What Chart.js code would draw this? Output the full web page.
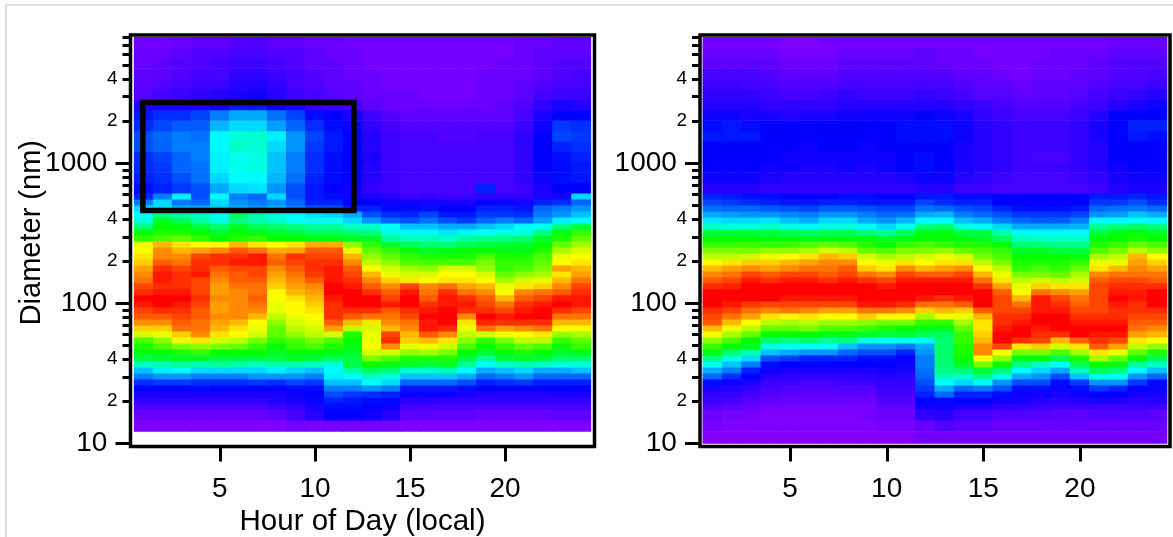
<!DOCTYPE html>
<html>
<head>
<meta charset="utf-8">
<title>Diameter by hour of day</title>
<script src="https://cdn.jsdelivr.net/npm/chart.js@4/dist/chart.umd.js"></script>
<style>
    html, body { margin: 0; padding: 0; background: #fff; overflow: hidden; }
    #page { position: absolute; left: 5px; top: 4px; width: 1168px; height: 533px; border-left: 2px solid #dcdcdc; border-top: 2px solid #e0e0e0; }
    canvas { position: absolute; top: 0; filter: blur(0.35px); }
    #leftChart { left: 0; }
    #rightChart { left: 610px; }
</style>
</head>
<body>
<div id="page"></div>
<canvas id="leftChart" width="610" height="537"></canvas>
<canvas id="rightChart" width="563" height="537"></canvas>
<script>
const hours = [1, 2, 3, 4, 5, 6, 7, 8, 9, 10, 11, 12, 13, 14, 15, 16, 17, 18, 19, 20, 21, 22, 23, 24];
const xTicks = [5, 10, 15, 20];
const yMajorTicks = [10, 100, 1000];
const yMinorTicks = [20, 30, 40, 50, 60, 70, 80, 90, 200, 300, 400, 500, 600, 700, 800, 900, 2000, 3000, 4000, 5000, 6000, 7000, 8000];
const yMinorLabels = { 20: '2', 40: '4', 200: '2', 400: '4', 2000: '2', 4000: '4' };

// size bin edges in nm, largest first
const diameterEdges = [7963, 6712, 5657, 4768, 4019, 3388, 2855, 2407, 2029, 1710, 1441, 1215, 1024, 863, 727, 613,
    556, 503, 456, 413, 374, 339, 307, 278, 252, 229, 207, 188, 170, 154, 140, 127, 115, 104, 94.2, 85.3, 77.3, 70,
    63.5, 57.5, 52.1, 47.2, 42.8, 38.8, 35.1, 31.8, 28.8, 26.1, 23.7, 21.4, 19.4, 17.6, 14.7, 12.2, 10];

// black box on the left panel
const boxHours = [0.95, 12.05];
const boxDiameters = [460, 2716];

// colour level 0 (purple) .. 100 (red), one row per size bin, largest size first
const leftRows = [
    [1, 1, 2, 3, 3, 4, 4, 3, 3, 2, 2, 1, 1, 1, 1, 1, 1, 1, 1, 1, 2, 2, 3, 3],
    [2, 2, 3, 4, 4, 5, 5, 4, 4, 3, 2, 2, 1, 1, 1, 1, 1, 1, 1, 1, 2, 3, 3, 3],
    [2, 3, 4, 4, 5, 6, 6, 5, 4, 3, 3, 2, 1, 1, 1, 1, 1, 1, 1, 2, 2, 3, 4, 4],
    [3, 3, 4, 5, 5, 7, 7, 6, 5, 4, 3, 2, 2, 1, 1, 1, 1, 1, 2, 2, 2, 3, 4, 5],
    [3, 4, 5, 6, 6, 8, 8, 7, 5, 4, 3, 3, 2, 1, 1, 1, 1, 1, 2, 2, 3, 4, 5, 5],
    [4, 5, 6, 7, 8, 9, 10, 8, 6, 5, 4, 3, 2, 2, 2, 1, 1, 1, 2, 2, 3, 5, 6, 6],
    [8, 9, 9, 9, 10, 13, 13, 11, 9, 7, 6, 5, 3, 2, 2, 2, 2, 2, 2, 3, 4, 7, 9, 8],
    [13, 15, 15, 17, 22, 26, 26, 21, 17, 12, 11, 9, 6, 4, 3, 3, 3, 3, 3, 3, 5, 9, 11, 11],
    [15, 17, 19, 19, 27, 30, 30, 25, 20, 15, 12, 10, 7, 5, 4, 4, 4, 4, 4, 4, 6, 10, 16, 15],
    [18, 20, 22, 21, 33, 37, 38, 32, 24, 17, 13, 11, 8, 6, 5, 5, 4, 4, 5, 5, 7, 11, 17, 16],
    [18, 20, 22, 22, 33, 38, 37, 30, 24, 16, 13, 11, 8, 6, 5, 5, 5, 5, 5, 5, 7, 11, 14, 15],
    [15, 17, 20, 22, 32, 35, 36, 28, 22, 15, 12, 11, 9, 6, 5, 5, 5, 5, 5, 5, 7, 11, 12, 14],
    [15, 16, 20, 21, 32, 35, 36, 28, 22, 15, 12, 11, 8, 6, 5, 5, 5, 5, 5, 5, 7, 11, 12, 13],
    [14, 15, 18, 21, 30, 33, 33, 27, 21, 14, 12, 11, 8, 6, 5, 5, 5, 5, 5, 5, 7, 10, 12, 13],
    [12, 14, 16, 18, 26, 30, 31, 24, 18, 13, 11, 10, 7, 6, 5, 5, 5, 5, 14, 5, 6, 9, 11, 11],
    [14, 22, 32, 18, 33, 22, 20, 30, 18, 13, 12, 10, 9, 8, 6, 7, 6, 6, 7, 7, 7, 9, 9, 30],
    [22, 30, 22, 20, 30, 24, 22, 24, 20, 14, 14, 11, 11, 10, 10, 9, 9, 9, 11, 10, 9, 14, 15, 20],
    [30, 30, 26, 26, 28, 26, 24, 26, 22, 18, 18, 14, 14, 12, 12, 12, 11, 11, 14, 14, 13, 20, 22, 24],
    [34, 44, 40, 38, 34, 48, 40, 36, 34, 31, 30, 26, 18, 15, 14, 17, 13, 13, 16, 16, 15, 22, 24, 28],
    [36, 52, 48, 42, 36, 44, 40, 38, 34, 33, 34, 30, 24, 20, 18, 21, 18, 16, 20, 22, 20, 25, 32, 33],
    [44, 56, 54, 50, 46, 52, 48, 46, 44, 42, 42, 38, 38, 34, 28, 28, 26, 26, 28, 30, 33, 34, 44, 50],
    [56, 58, 58, 56, 52, 56, 54, 52, 50, 48, 48, 46, 44, 36, 33, 33, 31, 33, 34, 36, 36, 44, 54, 60],
    [60, 62, 64, 60, 56, 58, 60, 56, 56, 54, 54, 52, 52, 42, 40, 40, 38, 42, 44, 44, 46, 52, 58, 64],
    [76, 84, 80, 78, 78, 84, 80, 78, 80, 85, 85, 68, 60, 52, 48, 46, 46, 48, 50, 52, 52, 56, 64, 70],
    [78, 88, 84, 86, 88, 92, 90, 85, 86, 92, 92, 76, 64, 60, 56, 52, 54, 56, 56, 54, 54, 58, 70, 74],
    [80, 88, 88, 94, 96, 96, 98, 90, 96, 94, 94, 84, 68, 64, 60, 58, 58, 58, 62, 58, 58, 62, 76, 78],
    [82, 92, 90, 96, 96, 98, 98, 92, 94, 96, 96, 88, 72, 68, 62, 62, 62, 62, 66, 60, 60, 64, 78, 80],
    [86, 96, 94, 96, 92, 94, 94, 88, 92, 96, 98, 92, 78, 74, 70, 68, 74, 74, 68, 60, 62, 66, 86, 84],
    [88, 98, 96, 98, 90, 92, 94, 86, 90, 95, 98, 94, 84, 76, 74, 74, 78, 78, 74, 64, 68, 70, 80, 86],
    [90, 98, 96, 94, 88, 92, 92, 84, 88, 92, 98, 96, 88, 82, 80, 78, 80, 80, 78, 70, 74, 76, 84, 90],
    [94, 96, 96, 94, 86, 90, 90, 82, 86, 88, 100, 98, 92, 88, 94, 88, 90, 86, 84, 76, 80, 82, 88, 94],
    [96, 98, 98, 94, 86, 88, 90, 78, 84, 86, 100, 100, 96, 92, 98, 90, 96, 90, 88, 78, 88, 90, 92, 96],
    [100, 100, 100, 96, 88, 88, 92, 78, 80, 84, 98, 100, 100, 94, 100, 92, 98, 96, 92, 84, 92, 94, 98, 98],
    [98, 100, 98, 94, 86, 88, 90, 76, 78, 82, 96, 100, 100, 98, 100, 96, 98, 98, 94, 90, 96, 98, 100, 98],
    [94, 96, 96, 92, 86, 88, 88, 76, 78, 80, 96, 96, 96, 92, 96, 98, 100, 96, 96, 94, 98, 100, 96, 94],
    [92, 92, 94, 92, 88, 88, 84, 72, 76, 78, 96, 92, 90, 90, 94, 100, 100, 88, 100, 98, 100, 100, 90, 90],
    [88, 88, 92, 90, 86, 84, 78, 68, 74, 76, 92, 84, 80, 88, 90, 98, 100, 80, 97, 96, 96, 96, 84, 84],
    [82, 82, 90, 90, 84, 80, 76, 64, 72, 74, 86, 72, 74, 84, 88, 98, 96, 76, 90, 86, 88, 90, 78, 78],
    [74, 76, 82, 88, 80, 78, 74, 64, 68, 72, 74, 58, 76, 94, 84, 92, 88, 72, 74, 76, 78, 80, 68, 70],
    [62, 68, 76, 80, 74, 72, 66, 60, 62, 66, 62, 56, 76, 96, 82, 84, 80, 68, 60, 66, 72, 72, 60, 64],
    [58, 62, 66, 68, 66, 64, 60, 56, 60, 62, 58, 54, 78, 88, 76, 76, 74, 62, 56, 60, 64, 62, 56, 60],
    [54, 56, 58, 60, 56, 56, 56, 52, 56, 56, 54, 52, 74, 74, 68, 70, 66, 56, 52, 56, 58, 56, 52, 54],
    [50, 50, 52, 52, 50, 50, 50, 50, 52, 50, 48, 50, 66, 62, 58, 58, 58, 50, 42, 50, 52, 50, 46, 46],
    [38, 40, 42, 40, 42, 40, 38, 40, 40, 38, 36, 50, 56, 54, 52, 50, 52, 42, 33, 38, 40, 38, 36, 36],
    [28, 32, 33, 30, 30, 30, 30, 32, 30, 28, 33, 42, 48, 46, 38, 38, 40, 33, 26, 28, 30, 26, 26, 28],
    [22, 24, 24, 22, 22, 22, 24, 24, 24, 22, 32, 33, 38, 36, 28, 28, 28, 26, 20, 22, 24, 20, 20, 20],
    [15, 16, 16, 15, 15, 15, 16, 15, 17, 16, 28, 28, 33, 30, 20, 20, 20, 18, 14, 15, 16, 14, 14, 14],
    [11, 11, 11, 12, 11, 11, 11, 11, 12, 12, 22, 22, 24, 22, 13, 13, 13, 12, 11, 11, 11, 11, 11, 11],
    [9, 9, 9, 9, 9, 9, 9, 9, 10, 11, 18, 16, 15, 14, 10, 10, 10, 9, 8, 8, 8, 8, 9, 9],
    [7, 7, 7, 7, 7, 7, 7, 8, 9, 10, 14, 13, 12, 12, 8, 8, 7, 7, 7, 7, 7, 7, 7, 7],
    [5, 5, 5, 5, 5, 5, 5, 6, 7, 9, 12, 12, 11, 10, 5, 5, 5, 5, 5, 5, 5, 5, 5, 5],
    [2, 2, 2, 2, 2, 2, 2, 3, 5, 8, 11, 11, 10, 8, 3, 3, 3, 3, 2, 2, 2, 2, 3, 3],
    [0, 0, 0, 0, 0, 0, 0, 0, 1, 1, 1, 1, 1, 1, 0, 0, 0, 0, 0, 0, 0, 0, 0, 0]
];

// right panel, coarse bins above about 600 nm, one row per size bin
const rightCoarseRows = [
    [1, 1, 1, 1, 0, 0, 1, 1, 1, 1, 1, 1, 1, 1, 1, 1, 1, 1, 1, 1, 1, 2, 2, 2],
    [2, 2, 2, 2, 1, 1, 1, 2, 2, 2, 2, 3, 2, 2, 1, 1, 1, 1, 2, 2, 2, 3, 3, 3],
    [3, 3, 3, 3, 2, 2, 2, 3, 3, 3, 3, 3, 2, 2, 2, 1, 1, 2, 2, 2, 3, 4, 4, 4],
    [5, 5, 5, 4, 3, 3, 3, 4, 4, 4, 4, 4, 4, 3, 3, 2, 1, 2, 2, 3, 3, 4, 4, 5],
    [6, 6, 5, 5, 4, 4, 4, 5, 5, 5, 5, 5, 5, 4, 3, 3, 2, 3, 3, 3, 4, 5, 5, 6],
    [7, 7, 7, 6, 5, 5, 6, 7, 6, 6, 6, 7, 6, 5, 4, 4, 3, 3, 3, 4, 5, 6, 7, 8],
    [8, 8, 8, 7, 7, 7, 7, 8, 8, 8, 8, 8, 8, 7, 6, 5, 4, 4, 4, 5, 6, 8, 9, 10],
    [10, 10, 9, 9, 8, 9, 9, 10, 10, 10, 10, 11, 10, 9, 7, 6, 5, 5, 5, 6, 8, 11, 11, 11],
    [12, 13, 12, 11, 11, 11, 11, 11, 11, 11, 12, 12, 12, 10, 8, 7, 6, 6, 6, 7, 9, 11, 14, 14],
    [13, 13, 13, 11, 11, 11, 11, 11, 11, 11, 12, 12, 12, 10, 8, 7, 6, 6, 6, 7, 9, 11, 13, 12],
    [11, 11, 11, 11, 11, 10, 11, 11, 10, 11, 11, 11, 11, 9, 8, 7, 6, 6, 6, 7, 8, 11, 11, 11],
    [11, 11, 11, 11, 10, 10, 10, 10, 10, 10, 11, 12, 11, 9, 8, 7, 6, 5, 5, 7, 8, 11, 11, 11],
    [11, 11, 11, 10, 10, 9, 9, 10, 9, 10, 11, 12, 11, 9, 8, 7, 6, 6, 6, 7, 8, 10, 11, 11],
    [10, 10, 10, 9, 8, 8, 8, 8, 8, 8, 9, 10, 10, 8, 7, 6, 5, 5, 5, 6, 7, 9, 10, 10],
    [8, 8, 8, 7, 7, 7, 7, 7, 7, 7, 7, 8, 8, 6, 6, 5, 5, 5, 5, 5, 6, 8, 9, 9]
];

// right panel, fine bins below about 600 nm, one list per hour, largest size first
const rightFineByHour = [
    [14, 17, 21, 26, 31, 38, 50, 56, 60, 66, 72, 78, 84, 88, 92, 96, 100, 100, 100, 96, 94, 92, 84, 76, 68, 60, 54, 44, 34, 26, 20, 12, 9, 7, 6, 4, 2, 1, 0],
    [13, 16, 20, 25, 30, 36, 50, 56, 60, 66, 72, 80, 86, 90, 94, 97, 100, 100, 98, 94, 90, 84, 76, 70, 62, 56, 46, 36, 28, 22, 15, 10, 8, 7, 5, 3, 1, 0, 0],
    [12, 15, 20, 24, 30, 36, 50, 56, 60, 66, 74, 82, 88, 94, 98, 100, 100, 100, 95, 90, 86, 78, 72, 64, 56, 54, 40, 30, 22, 14, 11, 9, 7, 5, 4, 2, 1, 0, 0],
    [12, 14, 19, 24, 31, 38, 50, 54, 60, 68, 76, 82, 86, 92, 96, 100, 100, 100, 94, 88, 80, 72, 64, 56, 46, 36, 28, 18, 12, 10, 8, 6, 5, 4, 3, 1, 0, 0, 0],
    [11, 13, 18, 23, 28, 36, 48, 54, 60, 68, 78, 84, 88, 94, 98, 100, 100, 98, 94, 90, 78, 70, 64, 56, 44, 34, 26, 16, 11, 9, 7, 6, 4, 3, 2, 1, 0, 0, 0],
    [11, 13, 17, 22, 26, 33, 46, 54, 62, 70, 80, 86, 90, 94, 98, 100, 100, 98, 94, 88, 80, 72, 66, 56, 46, 34, 24, 14, 11, 9, 7, 5, 4, 3, 2, 1, 0, 0, 0],
    [11, 14, 19, 24, 30, 36, 48, 54, 64, 74, 84, 88, 90, 92, 96, 100, 100, 98, 94, 86, 78, 70, 62, 54, 42, 33, 24, 14, 11, 9, 7, 5, 4, 3, 2, 1, 0, 0, 0],
    [12, 14, 19, 24, 30, 36, 48, 54, 62, 72, 82, 88, 92, 94, 98, 100, 100, 98, 94, 86, 78, 70, 62, 54, 44, 28, 20, 14, 11, 9, 7, 6, 4, 3, 2, 1, 0, 0, 0],
    [12, 13, 18, 22, 26, 33, 44, 54, 58, 64, 74, 78, 82, 90, 96, 100, 100, 100, 98, 90, 82, 68, 60, 52, 36, 24, 18, 12, 11, 9, 7, 6, 4, 3, 2, 1, 1, 0, 0],
    [11, 13, 17, 20, 24, 30, 42, 52, 56, 62, 70, 76, 80, 88, 94, 98, 100, 100, 98, 90, 78, 66, 58, 50, 34, 24, 18, 12, 11, 10, 8, 7, 6, 5, 4, 3, 2, 1, 0],
    [11, 13, 17, 21, 27, 35, 47, 54, 60, 66, 72, 80, 88, 94, 98, 100, 100, 100, 96, 88, 78, 66, 56, 50, 34, 22, 14, 11, 10, 9, 8, 7, 6, 5, 4, 3, 2, 1, 0],
    [13, 17, 21, 26, 33, 44, 54, 56, 62, 66, 74, 78, 84, 92, 98, 100, 100, 98, 90, 82, 70, 60, 54, 48, 33, 26, 24, 22, 22, 21, 20, 18, 16, 14, 11, 10, 7, 2, 1],
    [13, 15, 20, 27, 33, 46, 54, 56, 60, 68, 76, 80, 86, 92, 98, 100, 100, 96, 90, 84, 76, 60, 54, 47, 46, 46, 46, 46, 46, 44, 40, 33, 26, 20, 12, 10, 8, 4, 1],
    [12, 14, 18, 22, 28, 36, 50, 54, 58, 64, 74, 80, 88, 94, 98, 100, 100, 98, 92, 82, 76, 70, 64, 60, 60, 58, 58, 56, 52, 46, 38, 30, 20, 14, 11, 9, 5, 3, 1],
    [12, 14, 17, 20, 26, 33, 50, 52, 58, 62, 66, 72, 78, 84, 90, 96, 100, 100, 100, 92, 84, 80, 80, 82, 84, 88, 88, 78, 66, 52, 44, 33, 22, 14, 11, 9, 5, 3, 1],
    [11, 11, 14, 18, 22, 30, 40, 48, 56, 60, 62, 66, 72, 76, 80, 86, 92, 94, 94, 94, 96, 96, 98, 100, 100, 94, 78, 68, 56, 46, 36, 24, 18, 12, 10, 7, 4, 2, 1],
    [11, 11, 12, 16, 20, 26, 33, 40, 46, 52, 56, 58, 60, 66, 72, 76, 78, 84, 90, 94, 96, 98, 100, 100, 96, 80, 66, 54, 44, 33, 26, 18, 12, 10, 9, 7, 4, 2, 1],
    [11, 11, 12, 16, 19, 26, 33, 38, 46, 52, 56, 58, 62, 66, 74, 82, 90, 98, 98, 98, 100, 100, 98, 96, 94, 82, 66, 54, 38, 30, 24, 18, 12, 10, 8, 6, 4, 2, 1],
    [11, 11, 12, 16, 19, 26, 33, 38, 44, 50, 56, 58, 60, 64, 72, 80, 88, 94, 96, 98, 100, 100, 100, 96, 84, 74, 62, 48, 34, 26, 18, 12, 10, 9, 7, 6, 3, 2, 1],
    [11, 11, 13, 17, 22, 27, 33, 38, 44, 50, 54, 60, 64, 70, 74, 80, 86, 90, 92, 94, 96, 98, 100, 100, 92, 80, 70, 58, 48, 40, 28, 16, 12, 10, 8, 6, 3, 2, 1],
    [13, 16, 20, 24, 33, 42, 50, 54, 58, 62, 70, 76, 80, 88, 92, 94, 94, 94, 94, 94, 96, 98, 100, 98, 96, 92, 80, 70, 56, 48, 36, 24, 16, 11, 9, 6, 4, 2, 1],
    [13, 16, 21, 25, 33, 44, 54, 56, 60, 66, 72, 76, 84, 90, 94, 96, 98, 100, 98, 96, 96, 98, 100, 98, 94, 86, 76, 64, 54, 46, 34, 24, 14, 11, 9, 6, 4, 2, 1],
    [14, 18, 22, 28, 34, 46, 54, 58, 64, 72, 84, 86, 88, 90, 94, 96, 98, 98, 96, 96, 94, 92, 90, 86, 80, 72, 64, 56, 42, 33, 24, 16, 11, 9, 7, 6, 4, 2, 1],
    [13, 15, 20, 26, 33, 44, 52, 56, 62, 68, 78, 82, 86, 90, 92, 96, 100, 100, 100, 96, 94, 92, 88, 84, 78, 68, 58, 48, 38, 28, 20, 12, 10, 9, 8, 6, 3, 2, 1]
];

function transpose(lists) {
    return lists[0].map((_, i) => lists.map(list => list[i]));
}
const rightRows = rightCoarseRows.concat(transpose(rightFineByHour));

function levelColor(level) {
    return `hsl(${270 - 2.7 * level}, 100%, 50%)`;
}

function binDatasets(rows) {
    return rows.map((row, r) => ({
        type: 'bar',
        order: 1,
        // a hair of overlap so no white seams show between bins
        data: hours.map(h => ({ x: h, y: [diameterEdges[r + 1] * 0.992, diameterEdges[r]] })),
        backgroundColor: row.map(levelColor),
        barPercentage: 1.05,
        categoryPercentage: 1,
        borderWidth: 0
    }));
}

const boxDataset = {
    type: 'line',
    order: 0,
    data: [
        { x: boxHours[0], y: boxDiameters[0] },
        { x: boxHours[0], y: boxDiameters[1] },
        { x: boxHours[1], y: boxDiameters[1] },
        { x: boxHours[1], y: boxDiameters[0] },
        { x: boxHours[0], y: boxDiameters[0] }
    ],
    borderColor: '#000',
    borderWidth: 5.5,
    borderJoinStyle: 'miter',
    borderCapStyle: 'square',
    pointRadius: 0,
    tension: 0,
    fill: false
};

// frame and tick marks, Chart.js can't give each tick its own length
const framePlugin = {
    id: 'frame',
    afterDraw(chart) {
        const { ctx, chartArea, scales } = chart;
        ctx.save();
        ctx.strokeStyle = '#000';
        ctx.lineWidth = 3;
        ctx.beginPath();
        scales.y.ticks.forEach(t => {
            const py = Math.round(scales.y.getPixelForValue(t.value)) + 0.5;
            ctx.moveTo(chartArea.left, py);
            ctx.lineTo(chartArea.left - (yMajorTicks.includes(t.value) ? 15 : 8), py);
        });
        scales.x.ticks.forEach(t => {
            const px = Math.round(scales.x.getPixelForValue(t.value)) + 0.5;
            ctx.moveTo(px, chartArea.bottom);
            ctx.lineTo(px, chartArea.bottom + 15);
        });
        ctx.stroke();
        ctx.lineWidth = 3.5;
        ctx.strokeRect(chartArea.left, chartArea.top, chartArea.right - chartArea.left, chartArea.bottom - chartArea.top);
        ctx.restore();
    }
};

function makePanel(id, datasets, xMin, xMax, yAxisWidth, rightPad, titles) {
    return new Chart(document.getElementById(id), {
        type: 'bar',
        data: { datasets: datasets },
        plugins: [framePlugin],
        options: {
            responsive: false,
            animation: false,
            layout: { padding: { left: 0, top: 35, right: rightPad, bottom: 0 } },
            plugins: { legend: { display: false }, tooltip: { enabled: false } },
            scales: {
                x: {
                    type: 'linear',
                    offset: false,
                    stacked: true,
                    min: xMin,
                    max: xMax,
                    border: { display: false },
                    grid: { display: false, drawTicks: false, offset: false },
                    afterBuildTicks: scale => { scale.ticks = xTicks.map(v => ({ value: v })); },
                    afterFit: scale => { scale.height = 90.5; },
                    ticks: {
                        autoSkip: false,
                        maxRotation: 0,
                        padding: 26,
                        color: '#000',
                        font: { family: 'Liberation Sans', size: 28 },
                        callback: v => String(v)
                    },
                    title: {
                        display: titles,
                        text: 'Hour of Day (local)',
                        color: '#000',
                        font: { family: 'Liberation Sans', size: 29.5 },
                        padding: { top: 0, bottom: -3 }
                    }
                },
                y: {
                    type: 'logarithmic',
                    min: 9.5,
                    max: 8240,
                    border: { display: false },
                    grid: { display: false, drawTicks: false },
                    afterBuildTicks: scale => {
                        scale.ticks = yMajorTicks.concat(yMinorTicks).sort((a, b) => a - b).map(v => ({ value: v }));
                    },
                    afterFit: scale => { scale.width = yAxisWidth; },
                    ticks: {
                        autoSkip: false,
                        padding: 13,
                        color: '#000',
                        font: ctx => ({
                            family: 'Liberation Sans',
                            size: ctx.tick && yMajorTicks.includes(ctx.tick.value) ? 28 : 19
                        }),
                        callback: v => yMajorTicks.includes(v) ? v + '\u00a0\u200a' : (yMinorLabels[v] || '')
                    },
                    title: {
                        display: titles,
                        text: '\u00a0\u00a0Diameter (nm)',
                        color: '#000',
                        font: { family: 'Liberation Sans', size: 29 },
                        padding: { top: 15, bottom: 0 }
                    }
                }
            }
        }
    });
}

document.addEventListener('DOMContentLoaded', function () {
    makePanel('leftChart', [boxDataset].concat(binDatasets(leftRows)), 0.3, 24.7, 130.5, 15.5, true);
    makePanel('rightChart', binDatasets(rightRows), 0.344, 24.66, 90, 3, false);
});
</script>
</body>
</html>
